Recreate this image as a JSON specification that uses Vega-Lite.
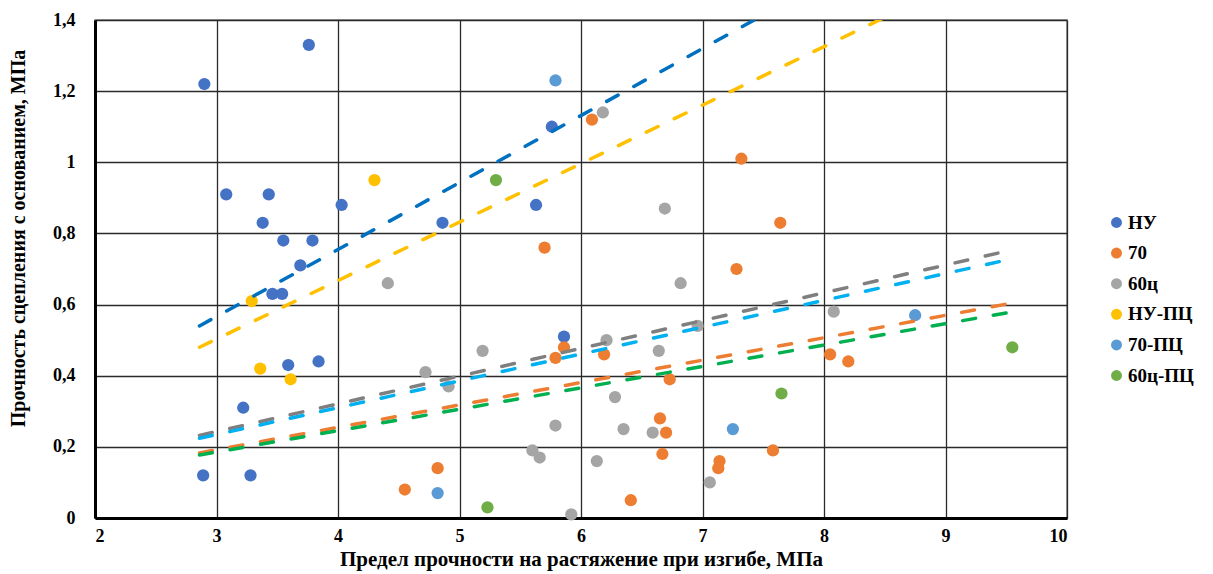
{
  "$schema": "https://vega.github.io/schema/vega-lite/v6.json",
  "width": 972,
  "height": 498,
  "autosize": {"type": "none"},
  "padding": {"left": 95, "top": 20, "right": 146, "bottom": 56},
  "background": "white",
  "config": {
    "font": "Liberation Serif",
    "view": {"stroke": "#7f7f7f", "strokeWidth": 1.5},
    "axis": {
      "labelFont": "Liberation Serif",
      "labelFontWeight": "bold",
      "labelColor": "#000",
      "titleFont": "Liberation Serif",
      "titleFontWeight": "bold",
      "titleColor": "#000",
      "gridColor": "#2a2a2a",
      "gridWidth": 1.3,
      "gridOpacity": 1,
      "domainColor": "#000",
      "domainWidth": 3,
      "ticks": false
    }
  },
  "datasets": {
    "points": [
      {"series": "НУ", "x": 2.89, "y": 0.12},
      {"series": "НУ", "x": 2.90, "y": 1.22},
      {"series": "НУ", "x": 3.08, "y": 0.91},
      {"series": "НУ", "x": 3.22, "y": 0.31},
      {"series": "НУ", "x": 3.28, "y": 0.12},
      {"series": "НУ", "x": 3.38, "y": 0.83},
      {"series": "НУ", "x": 3.43, "y": 0.91},
      {"series": "НУ", "x": 3.46, "y": 0.63},
      {"series": "НУ", "x": 3.54, "y": 0.63},
      {"series": "НУ", "x": 3.55, "y": 0.78},
      {"series": "НУ", "x": 3.59, "y": 0.43},
      {"series": "НУ", "x": 3.69, "y": 0.71},
      {"series": "НУ", "x": 3.76, "y": 1.33},
      {"series": "НУ", "x": 3.79, "y": 0.78},
      {"series": "НУ", "x": 3.84, "y": 0.44},
      {"series": "НУ", "x": 4.03, "y": 0.88},
      {"series": "НУ", "x": 4.86, "y": 0.83},
      {"series": "НУ", "x": 5.63, "y": 0.88},
      {"series": "НУ", "x": 5.76, "y": 1.10},
      {"series": "НУ", "x": 5.86, "y": 0.51},
      {"series": "70", "x": 4.55, "y": 0.08},
      {"series": "70", "x": 4.82, "y": 0.14},
      {"series": "70", "x": 5.70, "y": 0.76},
      {"series": "70", "x": 5.79, "y": 0.45},
      {"series": "70", "x": 5.86, "y": 0.48},
      {"series": "70", "x": 6.09, "y": 1.12},
      {"series": "70", "x": 6.19, "y": 0.46},
      {"series": "70", "x": 6.41, "y": 0.05},
      {"series": "70", "x": 6.65, "y": 0.28},
      {"series": "70", "x": 6.67, "y": 0.18},
      {"series": "70", "x": 6.70, "y": 0.24},
      {"series": "70", "x": 6.73, "y": 0.39},
      {"series": "70", "x": 7.13, "y": 0.14},
      {"series": "70", "x": 7.14, "y": 0.16},
      {"series": "70", "x": 7.28, "y": 0.70},
      {"series": "70", "x": 7.32, "y": 1.01},
      {"series": "70", "x": 7.58, "y": 0.19},
      {"series": "70", "x": 7.64, "y": 0.83},
      {"series": "70", "x": 8.05, "y": 0.46},
      {"series": "70", "x": 8.20, "y": 0.44},
      {"series": "60ц", "x": 4.41, "y": 0.66},
      {"series": "60ц", "x": 4.72, "y": 0.41},
      {"series": "60ц", "x": 4.91, "y": 0.37},
      {"series": "60ц", "x": 5.19, "y": 0.47},
      {"series": "60ц", "x": 5.60, "y": 0.19},
      {"series": "60ц", "x": 5.66, "y": 0.17},
      {"series": "60ц", "x": 5.79, "y": 0.26},
      {"series": "60ц", "x": 5.92, "y": 0.01},
      {"series": "60ц", "x": 6.13, "y": 0.16},
      {"series": "60ц", "x": 6.18, "y": 1.14},
      {"series": "60ц", "x": 6.21, "y": 0.50},
      {"series": "60ц", "x": 6.28, "y": 0.34},
      {"series": "60ц", "x": 6.35, "y": 0.25},
      {"series": "60ц", "x": 6.59, "y": 0.24},
      {"series": "60ц", "x": 6.64, "y": 0.47},
      {"series": "60ц", "x": 6.69, "y": 0.87},
      {"series": "60ц", "x": 6.82, "y": 0.66},
      {"series": "60ц", "x": 6.96, "y": 0.54},
      {"series": "60ц", "x": 7.06, "y": 0.10},
      {"series": "60ц", "x": 8.08, "y": 0.58},
      {"series": "НУ-ПЦ", "x": 3.29, "y": 0.61},
      {"series": "НУ-ПЦ", "x": 3.36, "y": 0.42},
      {"series": "НУ-ПЦ", "x": 3.61, "y": 0.39},
      {"series": "НУ-ПЦ", "x": 4.30, "y": 0.95},
      {"series": "70-ПЦ", "x": 4.82, "y": 0.07},
      {"series": "70-ПЦ", "x": 5.79, "y": 1.23},
      {"series": "70-ПЦ", "x": 7.25, "y": 0.25},
      {"series": "70-ПЦ", "x": 8.75, "y": 0.57},
      {"series": "60ц-ПЦ", "x": 5.23, "y": 0.03},
      {"series": "60ц-ПЦ", "x": 5.30, "y": 0.95},
      {"series": "60ц-ПЦ", "x": 7.65, "y": 0.35},
      {"series": "60ц-ПЦ", "x": 9.55, "y": 0.48}
    ],
    "trends": [
      {"trend": "tНУ", "x": 2.86, "y": 0.54},
      {"trend": "tНУ", "x": 9.55, "y": 1.80},
      {"trend": "tНУ-ПЦ", "x": 2.86, "y": 0.48},
      {"trend": "tНУ-ПЦ", "x": 9.55, "y": 1.58},
      {"trend": "t60ц", "x": 2.86, "y": 0.232},
      {"trend": "t60ц", "x": 9.5, "y": 0.75},
      {"trend": "t70-ПЦ", "x": 2.86, "y": 0.224},
      {"trend": "t70-ПЦ", "x": 9.5, "y": 0.725},
      {"trend": "t70", "x": 2.86, "y": 0.183},
      {"trend": "t70", "x": 9.56, "y": 0.605},
      {"trend": "t60ц-ПЦ", "x": 2.86, "y": 0.177},
      {"trend": "t60ц-ПЦ", "x": 9.56, "y": 0.58}
    ]
  },
  "encoding": {
    "x": {
      "field": "x",
      "type": "quantitative",
      "scale": {"domain": [2, 10], "nice": false, "zero": false},
      "axis": {
        "values": [2, 3, 4, 5, 6, 7, 8, 9, 10],
        "labelFontSize": 18,
        "labelPadding": 9,
        "title": "Предел прочности на растяжение при изгибе, МПа",
        "titleFontSize": 21,
        "titleX": 486,
        "titleY": 41,
        "titleBaseline": "middle",
        "titleAlign": "center"
      }
    },
    "y": {
      "field": "y",
      "type": "quantitative",
      "scale": {"domain": [0, 1.4], "nice": false},
      "axis": {
        "values": [0, 0.2, 0.4, 0.6, 0.8, 1, 1.2, 1.4],
        "labelExpr": "replace(format(datum.value, '.1~f'), '.', ',')",
        "labelFontSize": 18,
        "labelPadding": 20,
        "title": "Прочность сцепления с основанием, МПа",
        "titleFontSize": 20,
        "titleX": -77,
        "titleY": 218,
        "titleAngle": 270,
        "titleAlign": "center",
        "titleBaseline": "middle"
      }
    }
  },
  "layer": [
    {
      "data": {"name": "points"},
      "mark": {"type": "point", "filled": true, "shape": "circle", "size": 150, "opacity": 1},
      "encoding": {
        "color": {
          "field": "series",
          "type": "nominal",
          "scale": {
            "domain": ["НУ", "70", "60ц", "НУ-ПЦ", "70-ПЦ", "60ц-ПЦ"],
            "range": ["#4472C4", "#ED7D31", "#A5A5A5", "#FFC000", "#5B9BD5", "#70AD47"]
          },
          "legend": {
            "title": null,
            "orient": "none",
            "legendX": 1012,
            "legendY": 193,
            "symbolType": "circle",
            "symbolSize": 120,
            "symbolStrokeWidth": 0,
            "labelFont": "Liberation Serif",
            "labelFontWeight": "bold",
            "labelFontSize": 19,
            "labelColor": "#000",
            "labelOffset": 2,
            "rowPadding": 10.6
          }
        }
      }
    },
    {
      "data": {"name": "trends"},
      "mark": {"type": "line", "clip": true, "strokeWidth": 3.5, "strokeDash": [13, 18], "strokeCap": "round"},
      "encoding": {
        "color": {
          "field": "trend",
          "type": "nominal",
          "scale": {
            "domain": ["tНУ", "t70", "t60ц", "tНУ-ПЦ", "t70-ПЦ", "t60ц-ПЦ"],
            "range": ["#0070C0", "#ED7D31", "#7F7F7F", "#FFC000", "#00B0F0", "#00B050"]
          },
          "legend": null
        }
      }
    }
  ],
  "resolve": {"scale": {"color": "independent"}}
}
